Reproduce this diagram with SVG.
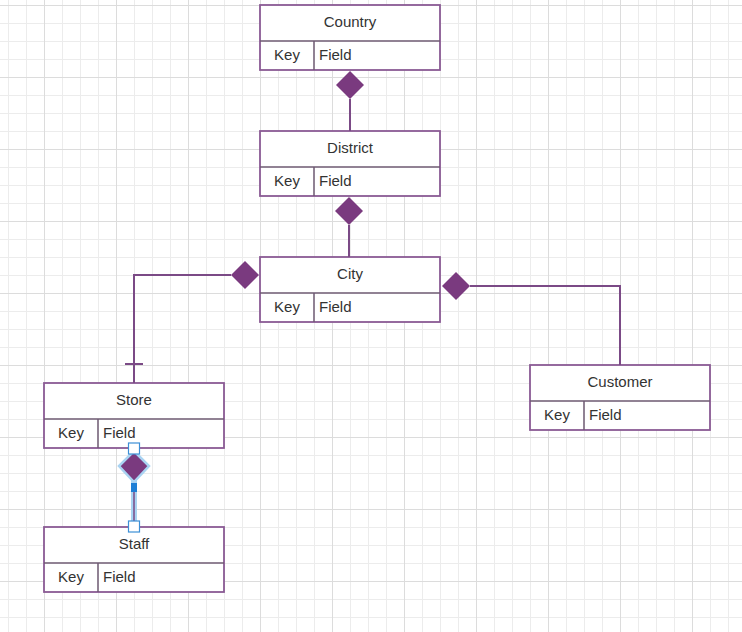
<svg xmlns="http://www.w3.org/2000/svg" width="742" height="632" viewBox="0 0 742 632">
<style>
.box{fill:#fff;stroke:#8a5a94;stroke-width:1.8}
.sep{stroke:#6e5a72;stroke-width:1.5;fill:none}
.t{font-family:"Liberation Sans",Arial,sans-serif;font-size:15px;fill:#333}
.c{text-anchor:middle}
.ln{stroke:#7b4a86;stroke-width:2;fill:none}
.dia{fill:#7a3a7f}
.h{fill:#fff;stroke:#3d8fd6;stroke-width:1.2}
</style>
<defs>
<pattern id="gmin" patternUnits="userSpaceOnUse" x="8" y="5" width="18" height="18">
<rect x="0" y="0" width="1" height="18" fill="#ececec"/>
<rect x="0" y="0" width="18" height="1" fill="#ececec"/>
</pattern>
<pattern id="gmaj" patternUnits="userSpaceOnUse" x="44" y="5" width="72" height="72">
<rect x="0" y="0" width="1" height="72" fill="#dcdcdc"/>
<rect x="0" y="0" width="72" height="1" fill="#dcdcdc"/>
</pattern>
</defs>
<rect width="742" height="632" fill="#fff"/>
<rect width="742" height="632" fill="url(#gmin)"/>
<rect width="742" height="632" fill="url(#gmaj)"/>

<g id="country">
<rect class="box" x="260" y="5" width="180" height="65"/>
<path class="sep" d="M260 41 H440 M314 41 V70"/>
<text class="t c" x="350" y="27">Country</text>
<text class="t c" x="287" y="60">Key</text>
<text class="t" x="319" y="60">Field</text>
</g>

<g id="district">
<rect class="box" x="260" y="131" width="180" height="65"/>
<path class="sep" d="M260 167 H440 M314 167 V196"/>
<text class="t c" x="350" y="153">District</text>
<text class="t c" x="287" y="186">Key</text>
<text class="t" x="319" y="186">Field</text>
</g>

<g id="city">
<rect class="box" x="260" y="257" width="180" height="65"/>
<path class="sep" d="M260 293 H440 M314 293 V322"/>
<text class="t c" x="350" y="279">City</text>
<text class="t c" x="287" y="312">Key</text>
<text class="t" x="319" y="312">Field</text>
</g>

<g id="store">
<rect class="box" x="44" y="383" width="180" height="65"/>
<path class="sep" d="M44 419 H224 M98 419 V448"/>
<text class="t c" x="134" y="405">Store</text>
<text class="t c" x="71" y="438">Key</text>
<text class="t" x="103" y="438">Field</text>
</g>

<g id="staff">
<rect class="box" x="44" y="527" width="180" height="65"/>
<path class="sep" d="M44 563 H224 M98 563 V592"/>
<text class="t c" x="134" y="549">Staff</text>
<text class="t c" x="71" y="582">Key</text>
<text class="t" x="103" y="582">Field</text>
</g>

<g id="customer">
<rect class="box" x="530" y="365" width="180" height="65"/>
<path class="sep" d="M530 401 H710 M584 401 V430"/>
<text class="t c" x="620" y="387">Customer</text>
<text class="t c" x="557" y="420">Key</text>
<text class="t" x="589" y="420">Field</text>
</g>

<g id="connectors">
<path class="ln" d="M350 99 V131"/>
<polygon class="dia" points="350,71 364,85 350,99 336,85"/>
<path class="ln" d="M349 225 V257"/>
<polygon class="dia" points="349,197 363,211 349,225 335,211"/>
<path class="ln" d="M231 275 H134 V383"/>
<path class="ln" d="M125 364 H143"/>
<polygon class="dia" points="245,261 259,275 245,289 231,275"/>
<path class="ln" d="M470 286 H620 V365"/>
<polygon class="dia" points="456,272 470,286 456,300 442,286"/>
<path d="M134 480 V526" stroke="#a9d3f2" stroke-width="6" fill="none"/>
<path d="M134 480 V526" stroke="#7b4a86" stroke-width="1.5" fill="none"/>
<polygon points="134,451 149,466 134,482 119,466" fill="#7a3a7f" stroke="#a9d3f2" stroke-width="2.5"/>
<rect class="h" x="128.5" y="443" width="11" height="11"/>
<rect x="131" y="483" width="6" height="9" fill="#1e7fd6"/>
<rect class="h" x="128.5" y="521" width="11" height="11"/>
</g>
</svg>
